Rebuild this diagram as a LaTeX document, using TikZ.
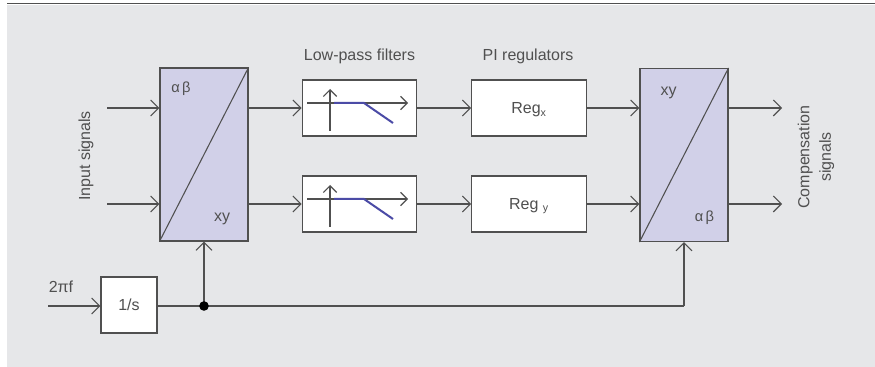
\documentclass[tikz,border=0pt]{standalone}
\usepackage{fontspec}
\setmainfont{Liberation Sans}
\usetikzlibrary{arrows.meta}
\definecolor{bggrey}{HTML}{E6E7E9}
\definecolor{blockfill}{HTML}{D1D0E8}
\definecolor{lineg}{HTML}{505050}
\definecolor{txtg}{HTML}{505050}
\definecolor{lpblue}{HTML}{4B4BA6}
\tikzset{
  conn/.style={draw=lineg, line width=0.8pt, -{Straight Barb[length=6pt,width=12pt,line width=0.8pt]}},
  wire/.style={draw=lineg, line width=0.8pt},
  conv/.style={draw=lineg, line width=0.8pt, fill=blockfill, minimum width=66pt, minimum height=129.75pt, inner sep=0pt},
  plainbox/.style={draw=lineg, line width=0.8pt, fill=white, minimum width=86pt, minimum height=42pt, inner sep=0pt},
  lbl/.style={text=txtg, font=\fontsize{12}{16}\selectfont, inner sep=0pt},
  small/.style={text=txtg, font=\fontsize{11}{13}\selectfont, inner sep=0pt}
}
\begin{document}
\begin{tikzpicture}[x=0.75pt, y=-0.75pt]
\useasboundingbox (0,0) rectangle (875,367);
\fill[bggrey] (7,5) rectangle (875,367);
\draw[lineg, line width=1.1pt] (7,3.5) -- (875,3.5);

% blocks
\node[conv] (A) at (204,154.5) {};
\node[conv] (B) at (684,155) {};
\draw[lineg, line width=0.8pt] (A.south west) -- (A.north east);
\draw[lineg, line width=0.8pt] (B.south west) -- (B.north east);
\node[plainbox] (F1) at (359.5,108) {};
\node[plainbox] (F2) at (359.5,204) {};
\node[plainbox] (R1) at (529,108) {};
\node[plainbox] (R2) at (529,204) {};
\node[plainbox, minimum width=42pt] (S) at (129,305) {};

% filter glyphs
\foreach \f in {F1,F2}{
  \begin{scope}[shift={(\f.center)}]
    \draw[lineg, line width=0.8pt, -{Straight Barb[length=5pt,width=10pt,line width=0.8pt]}] (-29.5,23) -- (-29.5,-19);
    \draw[lineg, line width=0.8pt, -{Straight Barb[length=5pt,width=10pt,line width=0.8pt]}] (-52.5,-5) -- (48.5,-5);
    \draw[lpblue, line width=1.5pt] (-25.5,-5) -- (4.5,-5) -- (33.5,15);
  \end{scope}
}

% labels in blocks
\node[small] (a1) at (181,89) {α\,β};
\node[lbl] (a2) at (222,219) {xy};
\node[lbl] (b1) at (668.5,93) {xy};
\node[small] (b2) at (704.5,217.5) {α\,β};
\node[lbl] (rx) at (529,110) {Reg\textsubscript{x}};
\node[lbl] (ry) at (529,206) {Reg \textsubscript{y}};
\node[lbl] (sl) at (S.center) {1/s};
\node[lbl] (pf) at (61,287) {2πf};

% headings
\node[lbl, anchor=base] (h1) at (359.5,61) {Low-pass filters};
\node[lbl, anchor=base] (h2) at (528,61) {PI regulators};
\node[lbl, rotate=90] (ins) at (86,156) {Input signals};
\node[lbl, rotate=90, align=center] (outs) at (816,157) {Compensation\\signals};

% coordinates
\coordinate (in1) at (107,108);
\coordinate (in2) at (107,204);
\coordinate (o1) at (782,108);
\coordinate (o2) at (782,204);
\coordinate (f0) at (48,306);
\coordinate (j) at (204,306);
\coordinate (c) at (684,306);

% connectors
\draw[conn] (in1) -- (in1 -| A.west);
\draw[conn] (in2) -- (in2 -| A.west);
\draw[conn] (A.east |- F1.west) -- (F1.west);
\draw[conn] (A.east |- F2.west) -- (F2.west);
\draw[conn] (F1.east) -- (R1.west);
\draw[conn] (F2.east) -- (R2.west);
\draw[conn] (R1.east) -- (R1.east -| B.west);
\draw[conn] (R2.east) -- (R2.east -| B.west);
\draw[conn] (B.east |- o1) -- (o1);
\draw[conn] (B.east |- o2) -- (o2);
\draw[conn] (f0) -- (f0 -| S.west);
\draw[wire] (S.east |- j) -- (j) -- (c);
\draw[conn] (j) -- (A.south);
\draw[conn] (c) -- (B.south);
\fill[black] (j) circle (3.6pt);
\end{tikzpicture}
\end{document}
